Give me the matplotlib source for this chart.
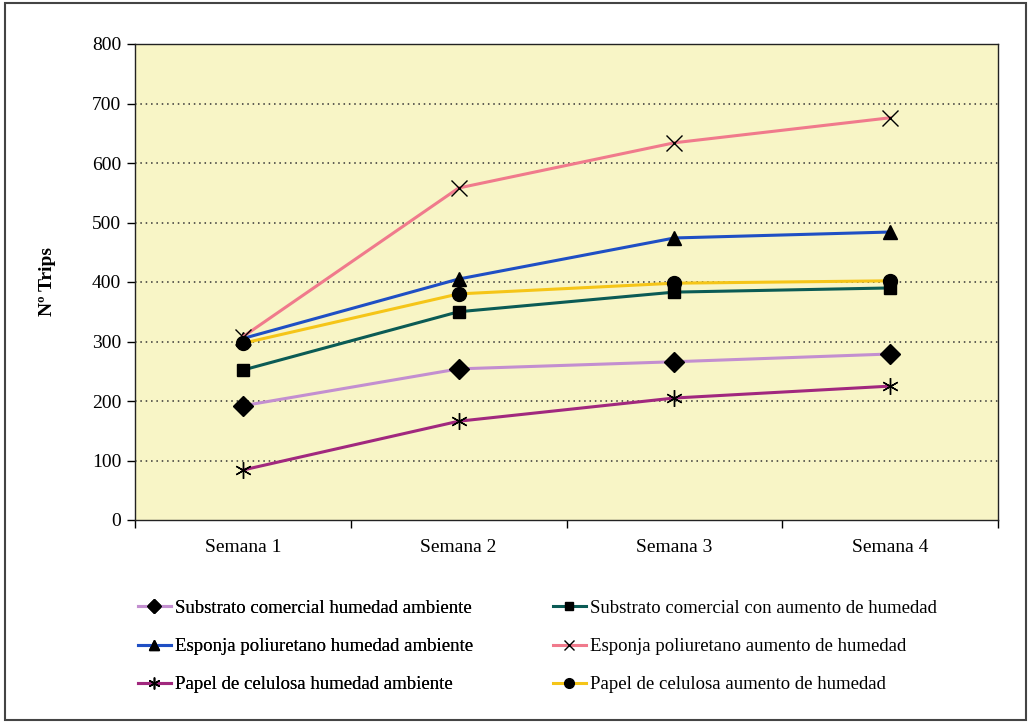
"""Nº Trips por semana segun sustrato y humedad."""

import matplotlib

matplotlib.use("Agg")
import matplotlib.pyplot as plt
from matplotlib.patches import Rectangle

plt.rcParams["font.family"] = ["Liberation Serif", "DejaVu Serif"]

WEEKS = ["Semana 1", "Semana 2", "Semana 3", "Semana 4"]

substrato_ambiente = [192, 254, 266, 279]
substrato_aumento = [252, 350, 383, 390]
esponja_ambiente = [305, 405, 474, 484]
esponja_aumento = [308, 558, 634, 676]
papel_ambiente = [84, 166, 205, 225]
papel_aumento = [297, 380, 398, 402]

SERIES = [
    ("Substrato comercial humedad ambiente", substrato_ambiente, "#c38fd0", "D", 10),
    ("Substrato comercial con aumento de humedad", substrato_aumento, "#0b5b55", "s", 9),
    ("Esponja poliuretano humedad ambiente", esponja_ambiente, "#1f4fc4", "^", 10),
    ("Esponja poliuretano aumento de humedad", esponja_aumento, "#f07a8c", "x", 11),
    ("Papel de celulosa humedad ambiente", papel_ambiente, "#a1287e", (6, 2, 0), 12),
    ("Papel de celulosa aumento de humedad", papel_aumento, "#f5c518", "o", 10),
]

fig = plt.figure(figsize=(10.29, 7.24), dpi=100)
ax = fig.add_axes([135 / 1029, 1 - 520 / 724, 863 / 1029, 476 / 724])
ax.set_facecolor("#f8f5c6")

x = list(range(len(WEEKS)))
handles = []
for label, values, color, marker, size in SERIES:
    (line,) = ax.plot(
        x, values, color=color, linewidth=2.2, marker=marker, markersize=size,
        markerfacecolor="black", markeredgecolor="black", markeredgewidth=1.0,
        label=label, zorder=3,
    )
    handles.append(line)

ax.set_xlim(-0.5, 3.5)
ax.set_ylim(0, 800)
ax.set_yticks(range(0, 801, 100))
ax.set_xticks(x)
ax.set_xticklabels(WEEKS)
ax.set_xticks([-0.5, 0.5, 1.5, 2.5, 3.5], minor=True)
ax.tick_params(axis="x", which="major", length=0, pad=14, labelsize=14)
ax.tick_params(axis="x", which="minor", length=6, direction="out", width=1)
ax.tick_params(axis="y", length=6, direction="out", width=1, labelsize=14, pad=4)
for y in range(100, 800, 100):
    ax.axhline(y, color="#333333", linestyle=(0, (1, 2.5)), linewidth=1.1, zorder=1)
for spine in ax.spines.values():
    spine.set_linewidth(1.0)
    spine.set_color("#222222")

ax.set_ylabel("Nº Trips", fontsize=14, fontweight="bold", labelpad=26)

# legend: two columns, row order left-right as in the original
legend_kw = dict(
    loc="upper left", frameon=False, fontsize=13.5, handlelength=1.75,
    handletextpad=0.25, labelspacing=1.12, markerscale=0.7,
)
left = fig.legend(handles=handles[0::2], bbox_to_anchor=(121 / 1029, 1 - 583 / 724), **legend_kw)
fig.add_artist(left)
fig.legend(handles=handles[1::2], bbox_to_anchor=(536 / 1029, 1 - 583 / 724), **legend_kw)

fig.patches.append(
    Rectangle((5 / 1029, 1 - 720 / 724), 1021 / 1029, 717 / 724,
              transform=fig.transFigure, fill=False, edgecolor="#444444",
              linewidth=1.5)
)

fig.savefig("out.png", dpi=100)
